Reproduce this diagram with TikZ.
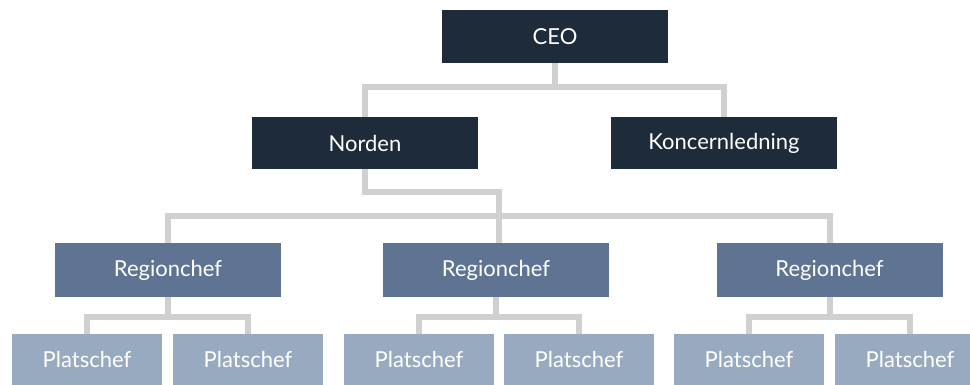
\documentclass[tikz,border=0pt]{standalone}
\usepackage{fontspec}
\setmainfont{Lato}
\definecolor{darkbox}{HTML}{1E2B3A}
\definecolor{midbox}{HTML}{5F7493}
\definecolor{lightbox}{HTML}{98AAC0}
\definecolor{conncol}{HTML}{D0D0CE}
\tikzset{
  base/.style={inner sep=0pt, outer sep=0pt, text=white, font=\fontsize{22}{26}\selectfont},
  topbox/.style={base, fill=darkbox, minimum width=226pt, minimum height=53pt},
  regbox/.style={base, fill=midbox, minimum width=226pt, minimum height=54pt},
  platbox/.style={base, fill=lightbox, minimum width=150pt, minimum height=52pt},
  conn/.style={draw=conncol, line width=6pt, line join=miter},
}
\begin{document}
\begin{tikzpicture}[x=1pt,y=-1pt]
\clip (0,0) rectangle (970,384);
\fill[white] (0,0) rectangle (970,384);
\coordinate (b1) at (0,87);
\coordinate (b2) at (0,192);
\coordinate (b3) at (0,216);
\coordinate (b4) at (0,317);
\node[topbox] (ceo) at (555,36.5) {CEO};
\node[topbox,minimum height=52pt] (norden) at (365,143) {Norden};
\node[topbox,minimum height=52pt] (koncern) at (724,143) {Koncernledning};
\node[regbox] (rc1) at (168,270) {Regionchef};
\node[regbox] (rc2) at (496,270) {Regionchef};
\node[regbox] (rc3) at (829.5,270) {Regionchef};
\node[platbox] (p1) at (87,359.5) {Platschef};
\node[platbox] (p2) at (248,359.5) {Platschef};
\node[platbox] (p3) at (419,359.5) {Platschef};
\node[platbox] (p4) at (579,359.5) {Platschef};
\node[platbox] (p5) at (749,359.5) {Platschef};
\node[platbox] (p6) at (910,359.5) {Platschef};
% level 1 -> 2
\draw[conn] (ceo.south) -- (ceo.south |- b1);
\draw[conn] (norden.north) -- (norden.north |- b1) -- (koncern.north |- b1) -- (koncern.north);
% level 2 -> 3
\draw[conn] (norden.south) -- (norden.south |- b2) -- ([xshift=3pt]rc2.north |- b2) -- ([xshift=3pt]rc2.north);
\draw[conn] (rc1.north) -- (rc1.north |- b3) -- (rc3.north |- b3) -- (rc3.north);
% level 3 -> 4
\draw[conn] (rc1.south) -- (rc1.south |- b4);
\draw[conn] (p1.north) -- (p1.north |- b4) -- (p2.north |- b4) -- (p2.north);
\draw[conn] (rc2.south) -- (rc2.south |- b4);
\draw[conn] (p3.north) -- (p3.north |- b4) -- (p4.north |- b4) -- (p4.north);
\draw[conn] (rc3.south) -- (rc3.south |- b4);
\draw[conn] (p5.north) -- (p5.north |- b4) -- (p6.north |- b4) -- (p6.north);
\end{tikzpicture}
\end{document}
